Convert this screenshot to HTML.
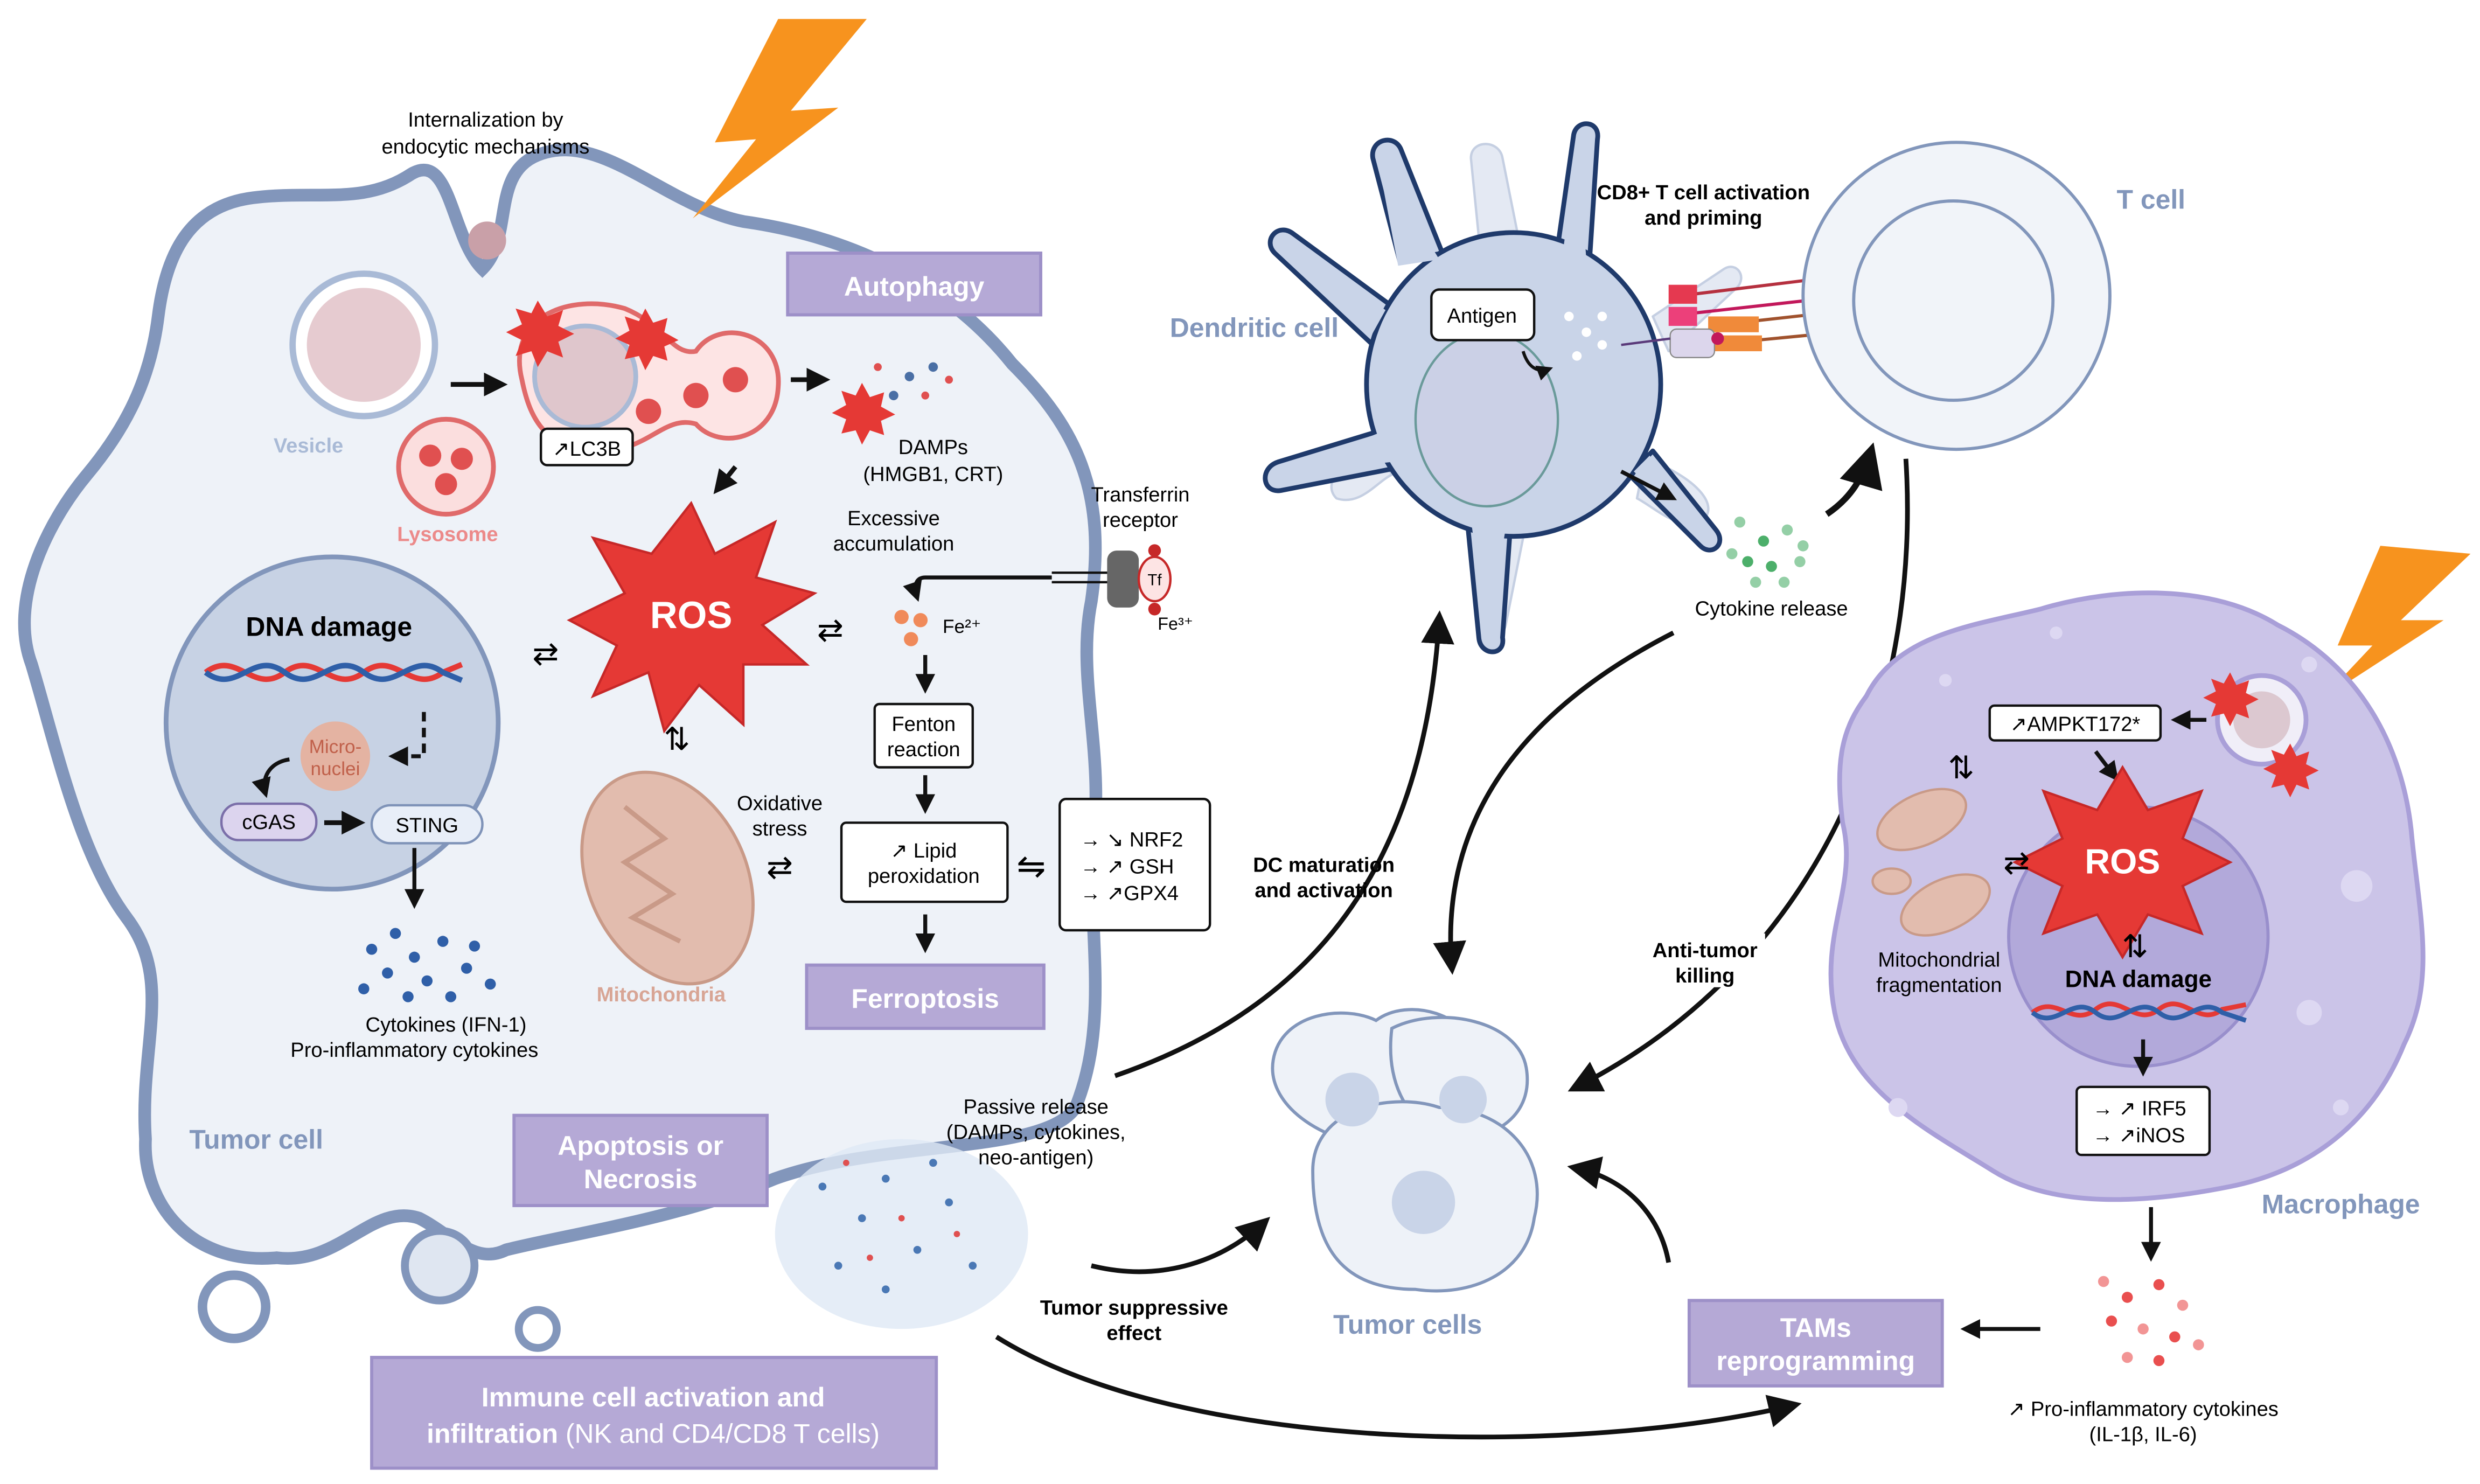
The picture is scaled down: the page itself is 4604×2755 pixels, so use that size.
<!DOCTYPE html>
<html><head><meta charset="utf-8"><style>
html,body{margin:0;padding:0;background:#fff;}
svg{display:block;}
text{font-family:"Liberation Sans",sans-serif;}
</style></head><body>
<svg width="4604" height="2755" viewBox="0 0 1568 938" preserveAspectRatio="none" xmlns="http://www.w3.org/2000/svg">
<defs>
<marker id="ah" viewBox="0 0 10 10" refX="8" refY="5" markerWidth="5" markerHeight="5" orient="auto"><path d="M0,0 L10,5 L0,10 Z" fill="#111"/></marker>
<marker id="as" viewBox="0 0 10 10" refX="8" refY="5" markerWidth="7" markerHeight="7" orient="auto"><path d="M0,0 L10,5 L0,10 Z" fill="#111"/></marker>
</defs>

<!-- Tumor cell -->
<path d="M20,420 C5,380 30,330 55,300 C80,270 95,240 100,200 C105,160 120,130 160,125 C200,120 230,130 260,110 C285,95 285,150 305,170 C325,150 310,110 340,98 C380,82 420,130 470,140 C540,150 600,180 640,230 C680,270 700,310 690,380 C680,430 700,480 690,540 C690,600 700,650 680,700 C660,730 560,720 490,745 C430,770 360,780 320,790 C300,800 285,780 265,770 C235,760 215,800 175,795 C120,800 90,760 92,720 C88,660 110,620 80,580 C50,540 35,470 20,420 Z" fill="#eef2f8" stroke="#8296bb" stroke-width="8"/>
<circle cx="148" cy="826" r="20" fill="#fff" stroke="#8296bb" stroke-width="6"/>
<circle cx="340" cy="840" r="12" fill="#fff" stroke="#8296bb" stroke-width="5"/>
<circle cx="278" cy="800" r="22" fill="#dfe6f1" stroke="#8296bb" stroke-width="5"/>

<!-- lightning top -->
<path d="M492,12 L548,12 L500,70 L530,68 L438,138 L478,88 L452,90 Z" fill="#f7931e"/>
<!-- lightning right -->
<path d="M1505,345 L1562,350 L1518,392 L1545,392 L1468,442 L1500,408 L1478,408 Z" fill="#f7931e"/>

<text x="307" y="80" font-size="13" text-anchor="middle">Internalization by</text>
<text x="307" y="97" font-size="13" text-anchor="middle">endocytic mechanisms</text>
<circle cx="308" cy="152" r="12" fill="#c9a0a8"/>

<!-- vesicle -->
<circle cx="230" cy="218" r="45" fill="#fff" stroke="#a9bad6" stroke-width="4"/>
<circle cx="230" cy="218" r="36" fill="#e6cbd0"/>
<text x="195" y="286" font-size="13" font-weight="bold" fill="#a9bad6" text-anchor="middle">Vesicle</text>
<circle cx="282" cy="295" r="30" fill="#fbdede" stroke="#e06a6a" stroke-width="3"/>
<circle cx="272" cy="288" r="7" fill="#e05050"/><circle cx="292" cy="290" r="7" fill="#e05050"/><circle cx="282" cy="306" r="7" fill="#e05050"/>
<text x="283" y="342" font-size="13" font-weight="bold" fill="#ec8a8a" text-anchor="middle">Lysosome</text>
<line x1="285" y1="243" x2="318" y2="243" stroke="#111" stroke-width="3" marker-end="url(#ah)"/>

<!-- autophagosome -->
<path d="M330,240 C320,200 360,185 395,195 C420,205 425,225 440,222 C455,200 495,210 492,245 C490,278 455,285 440,268 C420,262 410,285 380,285 C345,285 335,265 330,240 Z" fill="#fde4e4" stroke="#e06a6a" stroke-width="3"/>
<circle cx="370" cy="238" r="32" fill="#dfc6cc" stroke="#a9bad6" stroke-width="3"/>
<circle cx="465" cy="240" r="8" fill="#e05050"/><circle cx="440" cy="250" r="8" fill="#e05050"/><circle cx="410" cy="260" r="8" fill="#e05050"/>
<path d="M340,190 l6,10 l10,-4 l-3,10 l10,5 l-10,5 l3,10 l-10,-4 l-6,10 l-4,-10 l-10,3 l4,-10 l-10,-5 l10,-5 l-4,-10 l10,3 Z" fill="#e53935"/>
<path d="M408,195 l5,9 l9,-3 l-2,9 l9,5 l-9,4 l2,9 l-9,-3 l-5,9 l-4,-9 l-9,2 l3,-9 l-9,-4 l9,-5 l-3,-9 l9,3 Z" fill="#e53935"/>
<rect x="342" y="271" width="58" height="23" rx="4" fill="#fff" stroke="#111" stroke-width="1.5"/>
<text x="371" y="288" font-size="13" text-anchor="middle">↗LC3B</text>
<line x1="500" y1="240" x2="522" y2="240" stroke="#111" stroke-width="3" marker-end="url(#ah)"/>
<path d="M545,242 l5,9 l9,-3 l-2,9 l9,5 l-9,4 l2,9 l-9,-3 l-5,9 l-4,-9 l-9,2 l3,-9 l-9,-4 l9,-5 l-3,-9 l9,3 Z" fill="#e53935"/>
<g fill="#4a6fa5"><circle cx="575" cy="238" r="3"/><circle cx="590" cy="232" r="3"/><circle cx="565" cy="250" r="3"/></g>
<g fill="#e05050"><circle cx="585" cy="250" r="2.5"/><circle cx="600" cy="240" r="2.5"/><circle cx="555" cy="232" r="2.5"/></g>
<text x="590" y="287" font-size="13" text-anchor="middle">DAMPs</text>
<text x="590" y="304" font-size="13" text-anchor="middle">(HMGB1, CRT)</text>

<!-- Autophagy box -->
<rect x="498" y="160" width="160" height="39" fill="#b5a9d6" stroke="#9d90c8" stroke-width="2"/>
<text x="578" y="187" font-size="17" font-weight="bold" fill="#fff" text-anchor="middle">Autophagy</text>
<line x1="465" y1="295" x2="453" y2="310" stroke="#111" stroke-width="3" marker-end="url(#ah)"/>

<!-- ROS -->
<path d="M437,318 L452,350 L490,330 L478,365 L515,375 L482,395 L510,420 L470,420 L470,458 L442,433 L420,462 L410,425 L375,440 L390,408 L360,392 L395,375 L375,340 L412,350 Z" fill="#e53935" stroke="#c62828" stroke-width="1.5"/>
<text x="437" y="397" font-size="24" font-weight="bold" fill="#fff" text-anchor="middle">ROS</text>

<!-- DNA damage nucleus -->
<circle cx="210" cy="457" r="105" fill="#c7d2e4" stroke="#8296bb" stroke-width="3"/>
<text x="208" y="402" font-size="17" font-weight="bold" text-anchor="middle">DNA damage</text>
<path d="M130,425 C150,410 160,440 180,425 C200,410 210,440 230,425 C250,410 260,440 280,425 L292,420" fill="none" stroke="#e53935" stroke-width="3.5"/>
<path d="M130,425 C150,440 160,410 180,425 C200,440 210,410 230,425 C250,440 260,410 280,425 L292,430" fill="none" stroke="#2f5fa8" stroke-width="3.5"/>
<circle cx="212" cy="478" r="22" fill="#e4b3a2"/>
<text x="212" y="476" font-size="12" fill="#c0604a" text-anchor="middle">Micro-</text>
<text x="212" y="490" font-size="12" fill="#c0604a" text-anchor="middle">nuclei</text>
<path d="M268,450 L268,478 L248,478" fill="none" stroke="#111" stroke-width="2.5" stroke-dasharray="6,4" marker-end="url(#ah)"/>
<path d="M183,480 C170,482 165,492 168,502" fill="none" stroke="#111" stroke-width="2.5" marker-end="url(#ah)"/>
<rect x="140" y="508" width="60" height="23" rx="11" fill="#dcd4ee" stroke="#7b6fa9" stroke-width="1.5"/>
<text x="170" y="524" font-size="13" text-anchor="middle">cGAS</text>
<rect x="235" y="509" width="70" height="24" rx="12" fill="#e8eef8" stroke="#7f93b8" stroke-width="1.5"/>
<text x="270" y="526" font-size="13" text-anchor="middle">STING</text>
<line x1="205" y1="520" x2="228" y2="520" stroke="#111" stroke-width="3" marker-end="url(#ah)"/>
<line x1="262" y1="536" x2="262" y2="572" stroke="#111" stroke-width="2.5" marker-end="url(#ah)"/>
<g fill="#2f5fa8"><circle cx="235" cy="600" r="3.5"/><circle cx="250" cy="590" r="3.5"/><circle cx="262" cy="605" r="3.5"/><circle cx="280" cy="595" r="3.5"/><circle cx="245" cy="615" r="3.5"/><circle cx="270" cy="620" r="3.5"/><circle cx="295" cy="612" r="3.5"/><circle cx="230" cy="625" r="3.5"/><circle cx="258" cy="630" r="3.5"/><circle cx="285" cy="630" r="3.5"/><circle cx="300" cy="598" r="3.5"/><circle cx="310" cy="622" r="3.5"/></g>
<text x="282" y="652" font-size="13" text-anchor="middle">Cytokines (IFN-1)</text>
<text x="262" y="668" font-size="13" text-anchor="middle">Pro-inflammatory cytokines</text>
<text x="345" y="420" font-size="20" text-anchor="middle">⇄</text>
<text x="428" y="474" font-size="20" text-anchor="middle">⇅</text>

<!-- mitochondria -->
<ellipse cx="422" cy="555" rx="50" ry="70" transform="rotate(-25 422 555)" fill="#e2bcae" stroke="#c99a88" stroke-width="2"/>
<path d="M395,510 L420,530 L395,545 L425,565 L400,580 L430,595" fill="none" stroke="#c99a88" stroke-width="3"/>
<text x="418" y="633" font-size="13" font-weight="bold" fill="#d8a595" text-anchor="middle">Mitochondria</text>

<!-- Fe / ferroptosis -->
<text x="565" y="332" font-size="13" text-anchor="middle">Excessive</text>
<text x="565" y="348" font-size="13" text-anchor="middle">accumulation</text>
<path d="M665,365 L585,365 C578,365 578,372 580,378" fill="none" stroke="#111" stroke-width="2.5" marker-end="url(#ah)"/>
<text x="525" y="405" font-size="20" text-anchor="middle">⇄</text>
<g fill="#f08a5a"><circle cx="570" cy="390" r="4.5"/><circle cx="582" cy="392" r="4.5"/><circle cx="576" cy="404" r="4.5"/></g>
<text x="596" y="400" font-size="12">Fe²⁺</text>
<text x="721" y="317" font-size="13" text-anchor="middle">Transferrin</text>
<text x="721" y="333" font-size="13" text-anchor="middle">receptor</text>
<line x1="665" y1="362" x2="705" y2="362" stroke="#111" stroke-width="1.5"/><line x1="665" y1="368" x2="705" y2="368" stroke="#111" stroke-width="1.5"/>
<rect x="700" y="348" width="20" height="36" rx="6" fill="#666"/>
<ellipse cx="730" cy="366" rx="10" ry="14" fill="#fde4e4" stroke="#c62828" stroke-width="1.5"/>
<circle cx="730" cy="348" r="4" fill="#c62828"/><circle cx="730" cy="385" r="4" fill="#c62828"/>
<text x="730" y="370" font-size="10" text-anchor="middle">Tf</text>
<text x="732" y="398" font-size="11">Fe³⁺</text>
<line x1="585" y1="414" x2="585" y2="436" stroke="#111" stroke-width="2.5" marker-end="url(#ah)"/>
<rect x="553" y="445" width="62" height="40" rx="3" fill="#fff" stroke="#111" stroke-width="1.5"/>
<text x="584" y="462" font-size="13" text-anchor="middle">Fenton</text>
<text x="584" y="478" font-size="13" text-anchor="middle">reaction</text>
<line x1="585" y1="490" x2="585" y2="512" stroke="#111" stroke-width="2.5" marker-end="url(#ah)"/>
<rect x="532" y="520" width="105" height="50" rx="3" fill="#fff" stroke="#111" stroke-width="1.5"/>
<text x="584" y="542" font-size="13" text-anchor="middle">↗ Lipid</text>
<text x="584" y="558" font-size="13" text-anchor="middle">peroxidation</text>
<text x="493" y="512" font-size="13" text-anchor="middle">Oxidative</text>
<text x="493" y="528" font-size="13" text-anchor="middle">stress</text>
<text x="493" y="555" font-size="20" text-anchor="middle">⇄</text>
<text x="652" y="555" font-size="22" text-anchor="middle">⇋</text>
<rect x="670" y="505" width="95" height="83" rx="4" fill="#fff" stroke="#111" stroke-width="1.5"/>
<text x="683" y="535" font-size="13">→ ↘ NRF2</text>
<text x="683" y="552" font-size="13">→ ↗ GSH</text>
<text x="683" y="569" font-size="13">→ ↗GPX4</text>
<line x1="585" y1="578" x2="585" y2="600" stroke="#111" stroke-width="2.5" marker-end="url(#ah)"/>
<rect x="510" y="610" width="150" height="40" fill="#b5a9d6" stroke="#9d90c8" stroke-width="2"/>
<text x="585" y="637" font-size="17" font-weight="bold" fill="#fff" text-anchor="middle">Ferroptosis</text>

<!-- Tumor cell label / apoptosis -->
<text x="162" y="726" font-size="17" font-weight="bold" fill="#8296bb" text-anchor="middle">Tumor cell</text>
<rect x="325" y="705" width="160" height="57" fill="#b5a9d6" stroke="#9d90c8" stroke-width="2"/>
<text x="405" y="730" font-size="17" font-weight="bold" fill="#fff" text-anchor="middle">Apoptosis or</text>
<text x="405" y="751" font-size="17" font-weight="bold" fill="#fff" text-anchor="middle">Necrosis</text>

<!-- passive release cloud -->
<ellipse cx="570" cy="780" rx="80" ry="60" fill="#dfe8f5" opacity="0.8"/>
<g fill="#4a78b5"><circle cx="520" cy="750" r="2.5"/><circle cx="545" cy="770" r="2.5"/><circle cx="560" cy="745" r="2.5"/><circle cx="580" cy="790" r="2.5"/><circle cx="600" cy="760" r="2.5"/><circle cx="530" cy="800" r="2.5"/><circle cx="615" cy="800" r="2.5"/><circle cx="560" cy="815" r="2.5"/><circle cx="590" cy="735" r="2.5"/></g>
<g fill="#e05050"><circle cx="535" cy="735" r="2"/><circle cx="570" cy="770" r="2"/><circle cx="605" cy="780" r="2"/><circle cx="550" cy="795" r="2"/></g>
<text x="655" y="704" font-size="13" text-anchor="middle">Passive release</text>
<text x="655" y="720" font-size="13" text-anchor="middle">(DAMPs, cytokines,</text>
<text x="655" y="736" font-size="13" text-anchor="middle">neo-antigen)</text>

<rect x="235" y="858" width="357" height="70" fill="#b5a9d6" stroke="#9d90c8" stroke-width="2"/>
<text x="413" y="889" font-size="17" font-weight="bold" fill="#fff" text-anchor="middle">Immune cell activation and</text>
<text x="413" y="912" font-size="17" fill="#fff" text-anchor="middle"><tspan font-weight="bold">infiltration</tspan> (NK and CD4/CD8 T cells)</text>

<!-- Dendritic cell ghost -->
<g fill="#e4e9f3" stroke="#c5cfe2" stroke-width="1.5" stroke-linejoin="round">
<path d="M935,150 L930,100 C930,88 948,88 950,100 L960,150 Z"/>
<path d="M1045,200 L1090,170 C1098,165 1105,175 1098,182 L1055,222 Z"/>
<path d="M1040,290 C1070,300 1090,320 1075,330 C1060,335 1045,320 1035,315 Z"/>
<path d="M930,330 L935,395 C937,405 950,405 952,395 L965,330 Z"/>
<path d="M870,280 C850,290 835,305 845,315 C860,320 870,305 880,300 Z"/>
</g>
<g fill="#c9d4e8" stroke="#1f3a6b" stroke-width="3" stroke-linejoin="round">
<path d="M885,165 L868,100 C866,88 882,84 886,95 L912,160 Z"/>
<path d="M985,155 L995,85 C997,75 1012,76 1010,88 L1005,165 Z"/>
<path d="M878,192 L818,148 C808,140 798,152 806,160 L868,218 Z"/>
<path d="M880,270 L808,292 C796,296 798,312 810,310 L882,296 Z"/>
<path d="M928,332 L935,403 C936,415 952,415 950,403 L955,332 Z"/>
<path d="M1030,300 L1075,345 C1082,352 1092,344 1085,335 L1045,285 Z"/>
</g>
<ellipse cx="957" cy="243" rx="93" ry="96" fill="#c9d4e8" stroke="#1f3a6b" stroke-width="3"/>
<g fill="#c9d4e8">
<path d="M884,168 L871,100 L910,164 Z"/><path d="M988,160 L998,90 L1003,165 Z"/><path d="M876,196 L812,152 L866,214 Z"/><path d="M876,272 L806,300 L880,292 Z"/><path d="M930,328 L940,405 L953,328 Z"/><path d="M1033,298 L1080,343 L1043,288 Z"/>
</g>
<ellipse cx="940" cy="265" rx="45" ry="55" fill="#cbd0e6" stroke="#6a9a9a" stroke-width="1.5"/>
<rect x="905" y="183" width="65" height="32" rx="5" fill="#fff" stroke="#111" stroke-width="1.5"/>
<text x="937" y="204" font-size="13" text-anchor="middle">Antigen</text>
<path d="M963,222 C966,232 972,236 980,233" fill="none" stroke="#111" stroke-width="2" marker-end="url(#ah)"/>
<g fill="#fff"><circle cx="992" cy="200" r="3"/><circle cx="1013" cy="200" r="3"/><circle cx="1003" cy="210" r="3"/><circle cx="1013" cy="218" r="3"/><circle cx="997" cy="225" r="3"/></g>
<text x="793" y="213" font-size="17" font-weight="bold" fill="#8296bb" text-anchor="middle">Dendritic cell</text>
<!-- TCR/MHC -->
<line x1="1070" y1="186" x2="1160" y2="175" stroke="#b5303f" stroke-width="2"/>
<line x1="1070" y1="198" x2="1160" y2="188" stroke="#c2185b" stroke-width="2"/>
<line x1="1090" y1="205" x2="1162" y2="197" stroke="#a0522d" stroke-width="2"/>
<line x1="1090" y1="217" x2="1163" y2="210" stroke="#a0522d" stroke-width="2"/>
<rect x="1055" y="180" width="18" height="12" fill="#e53950"/>
<rect x="1055" y="194" width="18" height="12" fill="#ec407a"/>
<rect x="1080" y="200" width="32" height="10" fill="#f08a3a"/>
<rect x="1082" y="212" width="32" height="10" fill="#f08a3a"/>
<rect x="1056" y="208" width="28" height="18" rx="4" fill="#dcd6ec" stroke="#888" stroke-width="0.8"/>
<circle cx="1086" cy="214" r="4" fill="#c2185b"/>
<line x1="1025" y1="218" x2="1056" y2="214" stroke="#5a3a7a" stroke-width="1.5"/>
<text x="1077" y="126" font-size="13" font-weight="bold" text-anchor="middle">CD8+ T cell activation</text>
<text x="1077" y="142" font-size="13" font-weight="bold" text-anchor="middle">and priming</text>
<!-- T cell -->
<circle cx="1237" cy="187" r="97" fill="#f1f4f9" stroke="#8296bb" stroke-width="2"/>
<circle cx="1235" cy="190" r="63" fill="#f1f4f9" stroke="#8296bb" stroke-width="2"/>
<text x="1360" y="132" font-size="17" font-weight="bold" fill="#8296bb" text-anchor="middle">T cell</text>
<line x1="1025" y1="298" x2="1058" y2="315" stroke="#111" stroke-width="2.5" marker-end="url(#ah)"/>
<g fill="#4caf6a"><circle cx="1100" cy="330" r="3.5" opacity=".6"/><circle cx="1115" cy="342" r="3.5"/><circle cx="1130" cy="335" r="3.5" opacity=".6"/><circle cx="1105" cy="355" r="3.5"/><circle cx="1120" cy="358" r="3.5"/><circle cx="1138" cy="355" r="3.5" opacity=".6"/><circle cx="1095" cy="350" r="3.5" opacity=".6"/><circle cx="1110" cy="368" r="3.5" opacity=".6"/><circle cx="1128" cy="368" r="3.5" opacity=".6"/><circle cx="1140" cy="345" r="3.5" opacity=".6"/></g>
<text x="1120" y="389" font-size="13" text-anchor="middle">Cytokine release</text>
<path d="M1155,325 C1170,315 1178,302 1183,285" fill="none" stroke="#111" stroke-width="4" marker-end="url(#as)"/>

<!-- big arrows -->
<path d="M705,680 C820,640 900,560 910,390" fill="none" stroke="#111" stroke-width="3" marker-end="url(#as)"/>
<text x="837" y="551" font-size="13" font-weight="bold" text-anchor="middle">DC maturation</text>
<text x="837" y="567" font-size="13" font-weight="bold" text-anchor="middle">and activation</text>
<path d="M1058,400 C960,450 910,520 918,612" fill="none" stroke="#111" stroke-width="3" marker-end="url(#as)"/>
<path d="M1205,290 C1215,450 1150,610 995,688" fill="none" stroke="#111" stroke-width="3" marker-end="url(#as)"/>
<rect x="1040" y="590" width="76" height="34" fill="#fff"/>
<text x="1078" y="605" font-size="13" font-weight="bold" text-anchor="middle">Anti-tumor</text>
<text x="1078" y="621" font-size="13" font-weight="bold" text-anchor="middle">killing</text>
<path d="M690,800 C730,810 770,800 800,772" fill="none" stroke="#111" stroke-width="3" marker-end="url(#as)"/>
<text x="717" y="831" font-size="13" font-weight="bold" text-anchor="middle">Tumor suppressive</text>
<text x="717" y="847" font-size="13" font-weight="bold" text-anchor="middle">effect</text>
<path d="M630,845 C750,920 1000,920 1135,888" fill="none" stroke="#111" stroke-width="3" marker-end="url(#as)"/>
<path d="M1055,798 C1050,770 1030,745 995,738" fill="none" stroke="#111" stroke-width="3" marker-end="url(#as)"/>

<!-- Tumor cells -->
<g fill="#eef2f8" stroke="#8296bb" stroke-width="2">
<path d="M805,670 C810,640 850,635 870,645 C890,630 930,640 935,670 C940,700 920,720 880,725 C840,725 800,700 805,670 Z"/>
<path d="M880,650 C910,635 960,645 965,675 C970,705 945,720 920,720 C895,715 875,690 880,650 Z"/>
<path d="M830,740 C830,700 880,690 910,700 C950,700 980,730 970,770 C965,805 930,820 895,815 C850,815 830,790 830,740 Z"/>
</g>
<circle cx="855" cy="695" r="17" fill="#c9d4e8"/><circle cx="925" cy="695" r="15" fill="#c9d4e8"/><circle cx="900" cy="760" r="20" fill="#c9d4e8"/>
<text x="890" y="843" font-size="17" font-weight="bold" fill="#8296bb" text-anchor="middle">Tumor cells</text>

<!-- TAMs -->
<rect x="1068" y="822" width="160" height="54" fill="#b5a9d6" stroke="#9d90c8" stroke-width="2"/>
<text x="1148" y="845" font-size="17" font-weight="bold" fill="#fff" text-anchor="middle">TAMs</text>
<text x="1148" y="866" font-size="17" font-weight="bold" fill="#fff" text-anchor="middle">reprogramming</text>
<line x1="1290" y1="840" x2="1242" y2="840" stroke="#111" stroke-width="2.5" marker-end="url(#ah)"/>
<g fill="#e94f4f"><circle cx="1330" cy="810" r="3.5" opacity=".6"/><circle cx="1345" cy="820" r="3.5"/><circle cx="1365" cy="812" r="3.5"/><circle cx="1380" cy="825" r="3.5" opacity=".6"/><circle cx="1335" cy="835" r="3.5"/><circle cx="1355" cy="840" r="3.5" opacity=".6"/><circle cx="1375" cy="845" r="3.5"/><circle cx="1345" cy="858" r="3.5" opacity=".6"/><circle cx="1365" cy="860" r="3.5"/><circle cx="1390" cy="850" r="3.5" opacity=".6"/></g>
<text x="1355" y="895" font-size="13" text-anchor="middle">↗ Pro-inflammatory cytokines</text>
<text x="1355" y="911" font-size="13" text-anchor="middle">(IL-1β, IL-6)</text>
<line x1="1360" y1="763" x2="1360" y2="795" stroke="#111" stroke-width="2.5" marker-end="url(#ah)"/>

<!-- Macrophage -->
<path d="M1180,440 C1200,400 1250,395 1290,385 C1340,370 1400,370 1440,395 C1490,420 1520,470 1525,530 C1530,580 1540,620 1520,660 C1500,710 1460,740 1410,750 C1360,760 1300,765 1260,740 C1220,715 1170,690 1160,640 C1150,590 1175,560 1165,520 C1160,480 1165,460 1180,440 Z" fill="#cbc4e8" stroke="#a99fd8" stroke-width="3"/>
<g fill="#ddd8f2"><circle cx="1230" cy="430" r="4"/><circle cx="1460" cy="420" r="5"/><circle cx="1490" cy="560" r="10"/><circle cx="1460" cy="640" r="8"/><circle cx="1200" cy="700" r="6"/><circle cx="1300" cy="400" r="4"/><circle cx="1480" cy="700" r="5"/></g>
<circle cx="1352" cy="592" r="82" fill="#b2a9da" stroke="#998fcc" stroke-width="2"/>
<text x="1480" y="767" font-size="17" font-weight="bold" fill="#8296bb" text-anchor="middle">Macrophage</text>
<circle cx="1430" cy="455" r="28" fill="#f0eef8" stroke="#a99fd8" stroke-width="3"/>
<circle cx="1430" cy="455" r="18" fill="#dcc8d0"/>
<path d="M1410,425 l4,8 l8,-3 l-2,8 l8,4 l-8,4 l2,8 l-8,-3 l-4,8 l-4,-8 l-8,2 l3,-8 l-8,-4 l8,-4 l-3,-8 l8,3 Z" fill="#e53935"/>
<path d="M1448,470 l4,8 l8,-3 l-2,8 l8,4 l-8,4 l2,8 l-8,-3 l-4,8 l-4,-8 l-8,2 l3,-8 l-8,-4 l8,-4 l-3,-8 l8,3 Z" fill="#e53935"/>
<line x1="1395" y1="455" x2="1375" y2="455" stroke="#111" stroke-width="2.5" marker-end="url(#ah)"/>
<rect x="1258" y="446" width="108" height="22" rx="3" fill="#fff" stroke="#111" stroke-width="1.5"/>
<text x="1312" y="462" font-size="13" text-anchor="middle">↗AMPKT172*</text>
<text x="1240" y="492" font-size="20" text-anchor="middle">⇅</text>
<line x1="1325" y1="475" x2="1338" y2="492" stroke="#111" stroke-width="2.5" marker-end="url(#ah)"/>
<path d="M1342,485 L1358,512 L1392,500 L1380,530 L1410,545 L1380,560 L1392,590 L1358,578 L1342,605 L1326,578 L1292,590 L1304,560 L1274,545 L1304,530 L1292,500 L1326,512 Z" fill="#e53935" stroke="#c62828" stroke-width="1.5"/>
<text x="1342" y="552" font-size="22" font-weight="bold" fill="#fff" text-anchor="middle">ROS</text>
<text x="1350" y="605" font-size="20" text-anchor="middle">⇅</text>
<text x="1275" y="552" font-size="20" text-anchor="middle">⇄</text>
<ellipse cx="1215" cy="518" rx="30" ry="16" transform="rotate(-25 1215 518)" fill="#e2bcae" stroke="#c99a88" stroke-width="1.5"/>
<ellipse cx="1230" cy="572" rx="30" ry="16" transform="rotate(-25 1230 572)" fill="#e2bcae" stroke="#c99a88" stroke-width="1.5"/>
<ellipse cx="1196" cy="557" rx="12" ry="8" fill="#e2bcae" stroke="#c99a88" stroke-width="1.5"/>
<text x="1226" y="611" font-size="13" text-anchor="middle">Mitochondrial</text>
<text x="1226" y="627" font-size="13" text-anchor="middle">fragmentation</text>
<text x="1352" y="624" font-size="15" font-weight="bold" text-anchor="middle">DNA damage</text>
<path d="M1285,640 C1300,628 1310,650 1325,638 C1340,626 1350,650 1365,638 C1380,626 1390,650 1405,638 L1420,635" fill="none" stroke="#e53935" stroke-width="3"/>
<path d="M1285,640 C1300,652 1310,628 1325,640 C1340,652 1350,628 1365,640 C1380,652 1390,628 1405,640 L1420,645" fill="none" stroke="#2f5fa8" stroke-width="3"/>
<line x1="1355" y1="657" x2="1355" y2="678" stroke="#111" stroke-width="2.5" marker-end="url(#ah)"/>
<rect x="1313" y="687" width="84" height="43" rx="3" fill="#fff" stroke="#111" stroke-width="1.5"/>
<text x="1323" y="705" font-size="13">→ ↗ IRF5</text>
<text x="1323" y="722" font-size="13">→ ↗iNOS</text>
</svg>
</body></html>
